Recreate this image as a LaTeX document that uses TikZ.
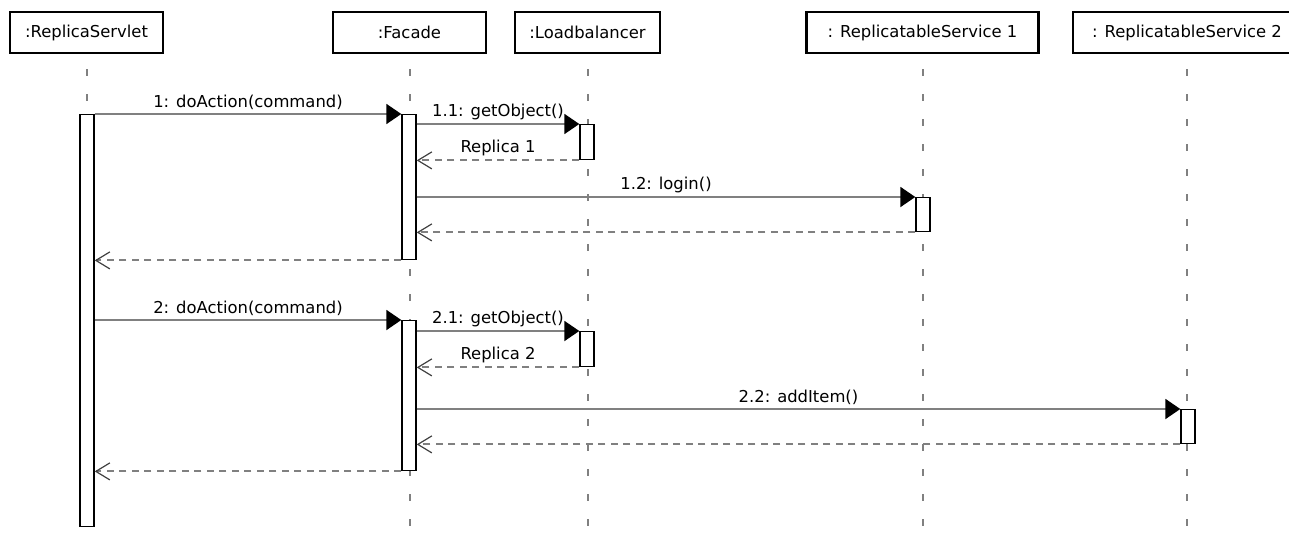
\documentclass[tikz,border=0pt]{standalone}
\usepackage{fontspec}
\setmainfont{DejaVu Sans}
\usetikzlibrary{arrows.meta}
\newcommand{\msgfont}{\fontsize{8.2}{10}\selectfont}

\tikzset{
  obj/.style={draw, line width=1.1pt, minimum height=20.5pt, inner sep=0pt, font=\msgfont},
  bar/.style={draw, fill=white, line width=0.7pt, minimum width=7pt, inner sep=0pt, anchor=north},
  life/.style={draw=gray, line width=1pt, dash pattern=on 3.5pt off 9pt},
  call/.style={draw=gray, line width=1pt, -{Triangle[length=7.5pt,width=10pt,color=black]}},
  reply/.style={draw=gray, line width=1pt, dash pattern=on 3.5pt off 2.75pt,
    -{Straight Barb[length=7pt,width=8.5pt,line width=0.6pt,color=darkgray]}},
  lbl/.style={font=\msgfont, above, inner sep=1.5pt}
}

\begin{document}
\begin{tikzpicture}[x=0.5pt,y=-0.5pt]
\useasboundingbox (0,0) rectangle (1289,540);
\node[obj, minimum width=76.5pt](servlet) at (86.5,32.5) {:ReplicaServlet};
\node[obj, minimum width=76.5pt](facade) at (409.5,32.5) {:Facade};
\node[obj, minimum width=72.5pt](lb) at (587.5,32.5) {:Loadbalancer};
\node[obj, minimum width=116pt](rs1) at (922.5,32.5) {: ReplicatableService 1};
\node[obj, minimum width=114pt](rs2) at (1187,32.5) {: ReplicatableService 2};
%
\foreach \n in {servlet,facade,lb,rs1,rs2}
  \draw[life] ([yshift=-7.5pt]\n.south) -- ([yshift=-245pt]\n.south);
%
\node[bar, minimum height=206pt](act1) at (87,114) {};
\node[bar, minimum height=72.5pt](fac1) at (409,114) {};
\node[bar, minimum height=17.5pt](lb1) at (587,124) {};
\node[bar, minimum height=17pt](rs1a) at (923,197) {};
\node[bar, minimum height=75pt](fac2) at (409,320) {};
\node[bar, minimum height=17.5pt](lb2) at (587,331) {};
\node[bar, minimum height=17pt](rs2a) at (1188,409) {};
%
\draw[call](act1.north east) -- (fac1.north west) node[lbl, pos=0.5]{1: doAction(command)};
\draw[call](fac1.east |- lb1.north) -- (lb1.north west) node[lbl, pos=0.5]{1.1: getObject()};
\draw[reply](lb1.south west) -- (fac1.east |- lb1.south) node[lbl, pos=0.5]{Replica 1};
\draw[call](fac1.east |- rs1a.north) -- (rs1a.north west) node[lbl, pos=0.5]{1.2: login()};
\draw[reply](rs1a.south west) -- (fac1.east |- rs1a.south);
\draw[reply](fac1.south west) -- (act1.east |- fac1.south);
%
\draw[call](act1.east |- fac2.north) -- (fac2.north west) node[lbl, pos=0.5]{2: doAction(command)};
\draw[call](fac2.east |- lb2.north) -- (lb2.north west) node[lbl, pos=0.5]{2.1: getObject()};
\draw[reply](lb2.south west) -- (fac2.east |- lb2.south) node[lbl, pos=0.5]{Replica 2};
\draw[call](fac2.east |- rs2a.north) -- (rs2a.north west) node[lbl, pos=0.5]{2.2: addItem()};
\draw[reply](rs2a.south west) -- (fac2.east |- rs2a.south);
\draw[reply](fac2.south west) -- (act1.east |- fac2.south);
\end{tikzpicture}
\end{document}
